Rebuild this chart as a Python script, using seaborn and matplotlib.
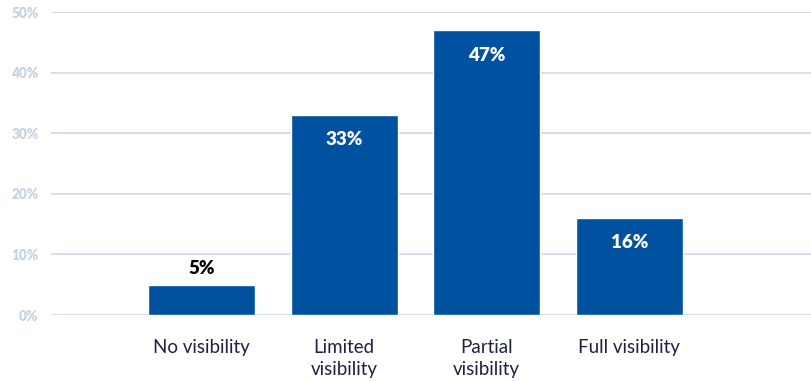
import matplotlib
matplotlib.use("Agg")
import matplotlib.pyplot as plt
import seaborn as sns
import pandas as pd

# Data
categories = ["No visibility", "Limited\nvisibility", "Partial\nvisibility", "Full visibility"]
shares = [5, 33, 47, 16]
y_ticks = [0, 10, 20, 30, 40, 50]

bar_color = "#0052A0"
grid_color = "#C9D5E4"
tick_color = "#C6D3E2"
text_color = "#1E2140"

sns.set_theme(style="white")
plt.rcParams['font.family'] = ['Lato', 'DejaVu Sans']

df = pd.DataFrame({"category": categories, "share": shares})

fig = plt.figure(figsize=(8.12, 3.81), dpi=100)
ax = fig.add_axes([0.0628, 0.1732, 0.9372, 0.7953])

sns.barplot(data=df, x="category", y="share", color=bar_color, width=0.75,
            saturation=1, ax=ax, zorder=3)

ax.set_ylim(0, 50)
ax.set_xlim(-1.055, 4.28)
ax.set_yticks(y_ticks)
ax.set_yticklabels([f"{t}%" for t in y_ticks], color=tick_color,
                   fontsize=9.8, fontweight="heavy")
ax.yaxis.grid(True, color=grid_color, linewidth=1.1, zorder=0)
ax.xaxis.grid(False)
for s in ax.spines.values():
    s.set_visible(False)
ax.tick_params(axis="y", length=0, pad=9)
ax.tick_params(axis="x", length=0, pad=17, labelsize=13.5, labelcolor=text_color)
for lbl in ax.get_xticklabels():
    lbl.set_linespacing(1.4)
ax.set_xlabel("")
ax.set_ylabel("")

for i, v in enumerate(shares):
    if v < 10:
        ax.text(i, v + 1.3, f"{v}%", ha="center", va="bottom", fontsize=13.5,
                fontweight="heavy", color="black")
    else:
        ax.text(i, v - 2.7, f"{v}%", ha="center", va="top", fontsize=13.5,
                fontweight="heavy", color="white")

fig.savefig("out.png", dpi=100)
